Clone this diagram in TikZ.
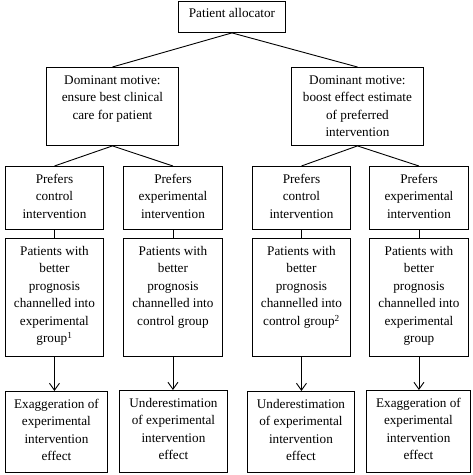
\documentclass[tikz,border=0pt]{standalone}
\usepackage{fontspec}
\setmainfont{Liberation Serif}
\usetikzlibrary{arrows.meta}
\newcommand\bx[3]{\parbox[t][#2pt][t]{#1pt}{\centering\rule{0pt}{17pt}#3}}
\begin{document}
\begin{tikzpicture}[x=1pt,y=-1pt,
  box/.style={draw,line width=0.9pt,inner sep=0pt,anchor=north west,
    font=\fontsize{13.2pt}{17.5pt}\selectfont},
  link/.style={line width=0.9pt},
  arr/.style={line width=0.9pt,-{Straight Barb[length=7pt,width=10pt,line width=0.9pt]}}]
\useasboundingbox (0,0) rectangle (473,475);
\node[box] (top) at (178,0.5) {\bx{107}{31.5}{Patient allocator}};
\node[box] (domL) at (46,67) {\bx{132}{78}{Dominant motive:\\ensure best clinical\\care for patient}};
\node[box] (domR) at (291,67) {\bx{132}{78}{Dominant motive:\\boost effect estimate\\of preferred\\intervention}};
\node[box] (p1) at (5,166) {\bx{98}{63}{Prefers\\control\\intervention}};
\node[box] (p2) at (123,166) {\bx{99}{63}{Prefers\\experimental\\intervention}};
\node[box] (p3) at (252,166) {\bx{98}{63}{Prefers\\control\\intervention}};
\node[box] (p4) at (369,166) {\bx{99}{63}{Prefers\\experimental\\intervention}};
\node[box] (q1) at (5,238) {\bx{98}{118}{Patients with\\better\\prognosis\\channelled into\\experimental\\group\textsuperscript{1}}};
\node[box] (q2) at (123,238) {\bx{99}{118}{Patients with\\better\\prognosis\\channelled into\\control group}};
\node[box] (q3) at (252,238) {\bx{98}{118}{Patients with\\better\\prognosis\\channelled into\\control group\textsuperscript{2}}};
\node[box] (q4) at (369,238) {\bx{99}{118}{Patients with\\better\\prognosis\\channelled into\\experimental\\group}};
\node[box] (e1) at (5,391) {\bx{102}{81}{Exaggeration of\\experimental\\intervention\\effect}};
\node[box] (e2) at (119,390) {\bx{108}{82}{Underestimation\\of experimental\\intervention\\effect}};
\node[box] (e3) at (247,391) {\bx{107}{81}{Underestimation\\of experimental\\intervention\\effect}};
\node[box] (e4) at (366,390) {\bx{104}{82}{Exaggeration of\\experimental\\intervention\\effect}};
\draw[link] (top.south) -- (domL.north);
\draw[link] (top.south) -- (domR.north);
\draw[link] (domL.south) -- (p1.north);
\draw[link] (domL.south) -- (p2.north);
\draw[link] (domR.south) -- (p3.north);
\draw[link] (domR.south) -- (p4.north);
\draw[link] (p1.south) -- (q1.north);
\draw[link] (p2.south) -- (q2.north);
\draw[link] (p3.south) -- (q3.north);
\draw[link] (p4.south) -- (q4.north);
\draw[arr] (q1.south) -- (q1.south |- e1.north);
\draw[arr] (q2.south) -- (q2.south |- e2.north);
\draw[arr] (q3.south) -- (q3.south |- e3.north);
\draw[arr] (q4.south) -- (q4.south |- e4.north);
\end{tikzpicture}
\end{document}
